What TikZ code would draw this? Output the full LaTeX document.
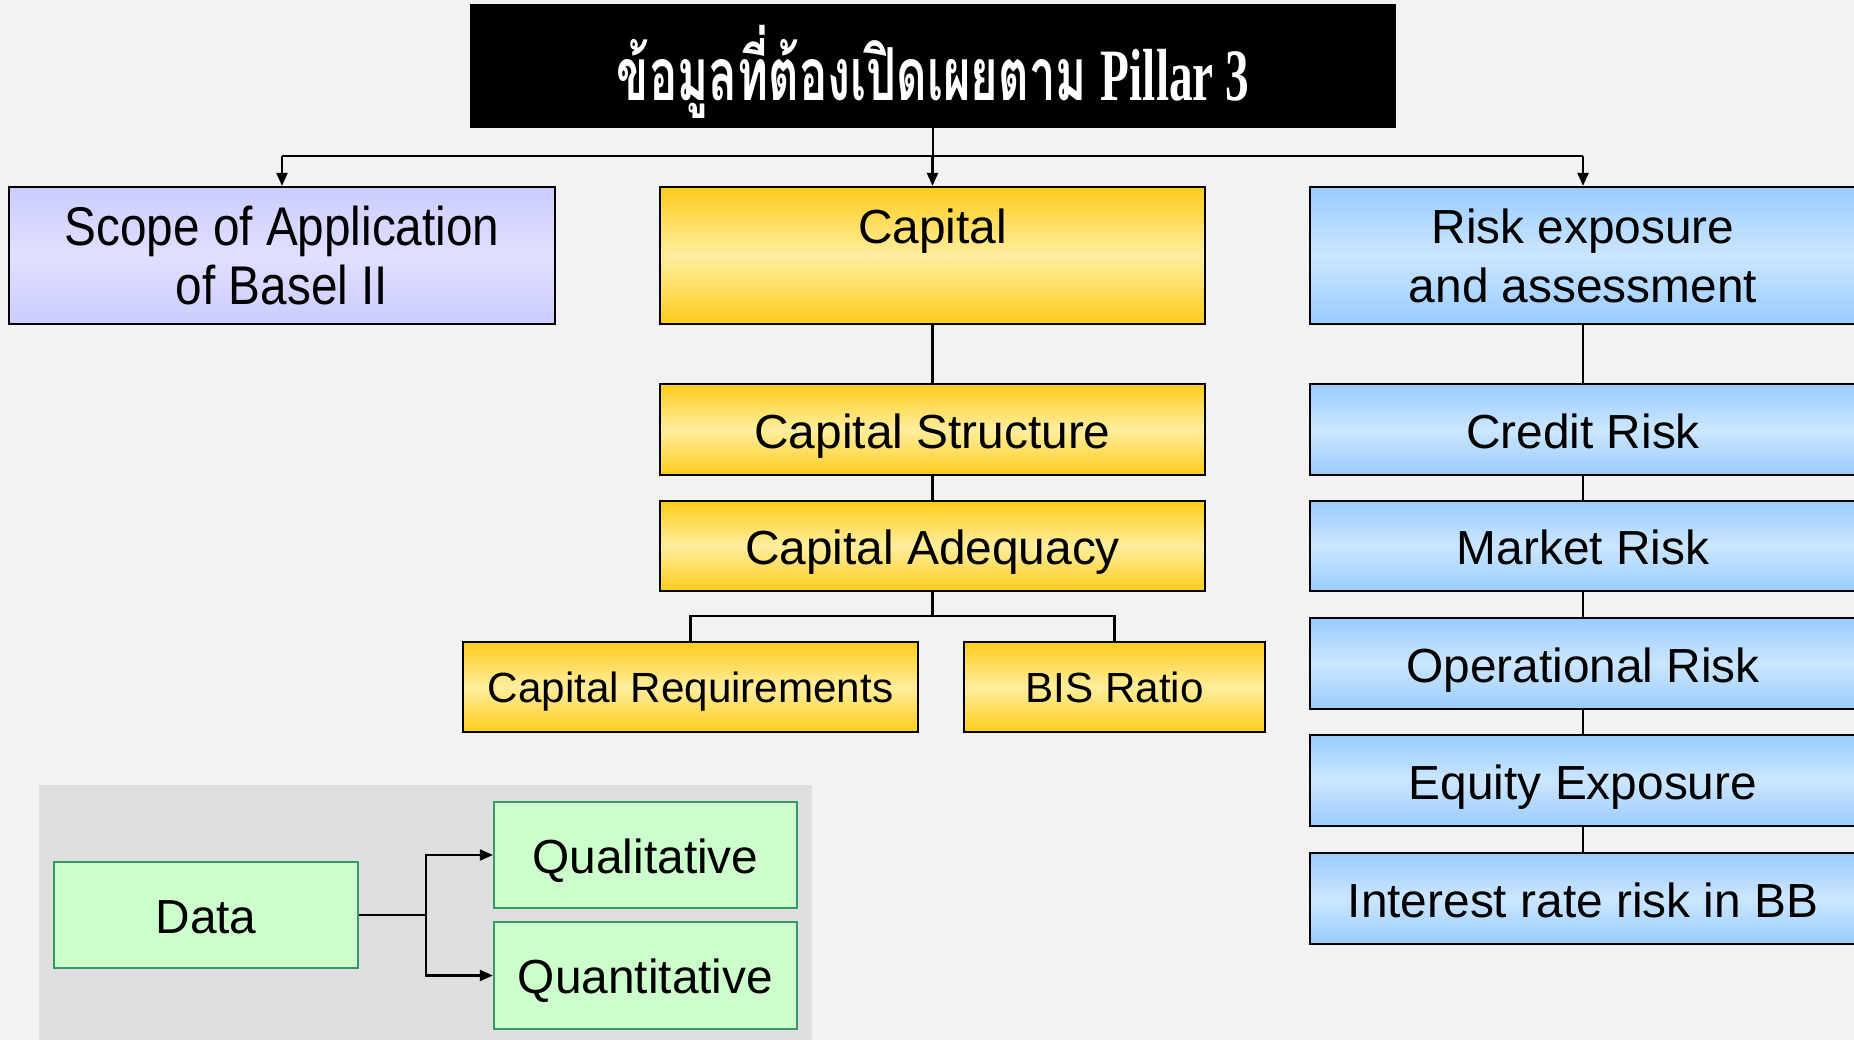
\documentclass[tikz,border=0pt]{standalone}
\usepackage{fontspec}
\setmainfont{Liberation Sans}
\newfontfamily\thaifont[Script=Thai,FakeStretch=0.645]{Loma}
\newfontfamily\pillarfont[FakeStretch=0.64]{Liberation Serif}
\newfontfamily\narrowfont[FakeStretch=0.875]{Liberation Sans}
\usetikzlibrary{arrows.meta}
\definecolor{pagebg}{HTML}{F2F2F2}
\definecolor{panelgray}{HTML}{DFDFDF}
\definecolor{scopeedge}{HTML}{CCCCFF}
\definecolor{scopemid}{HTML}{E0E0FF}
\definecolor{capedge}{HTML}{FFCC1A}
\definecolor{capmid}{HTML}{FFEE9E}
\definecolor{riskedge}{HTML}{99CCFF}
\definecolor{riskmid}{HTML}{CCE6FF}
\definecolor{datafill}{HTML}{CCFFCC}
\definecolor{dataline}{HTML}{339966}
\tikzset{
  box/.style={draw=black, line width=0.6pt, inner sep=0pt, align=center,
    minimum width=5.45cm, font=\fontsize{13.6}{16.8}\selectfont},
  oneline/.style={text height=10.8pt, text depth=0pt},
  smallline/.style={text height=9pt, text depth=0pt, font=\fontsize{12}{14}\selectfont},
  scopebox/.style={box, top color=scopeedge, bottom color=scopeedge, middle color=scopemid,
    minimum height=1.37cm, font=\narrowfont\fontsize{15.5}{16.8}\selectfont},
  capbox/.style={box, top color=capedge, bottom color=capedge, middle color=capmid},
  riskbox/.style={box, top color=riskedge, bottom color=riskedge, middle color=riskmid},
  databox/.style={draw=dataline, line width=0.6pt, fill=datafill, inner sep=0pt,
    minimum width=3.03cm, minimum height=1.06cm, text height=10.3pt, text depth=0pt,
    font=\fontsize{13.6}{16}\selectfont},
  link/.style={line width=0.6pt},
  arrowlink/.style={link, -{Triangle[length=0.13cm, width=0.11cm]}}
}
\begin{document}
\begin{tikzpicture}[x=0.01cm, y=-0.01cm]
  \useasboundingbox (0,0) rectangle (1854,1040);
  \fill[pagebg] (0,0) rectangle (1854,1040);
  \fill[panelgray] (39,785) rectangle (812,1040);

  \node[fill=black, text=white, minimum width=9.25cm, minimum height=1.23cm,
    text height=21pt, text depth=1.4pt, font=\bfseries] (title) at (933,66)
    {{\thaifont\fontsize{20.8}{24}\selectfont ข้อมูลที่ต้องเปิดเผยตาม}\hspace{4pt}{\pillarfont\fontsize{21}{24}\selectfont Pillar 3}};

  \node[scopebox] (scope) at (282,255.5) {Scope of Application\\of Basel II};
  \node[capbox, minimum height=1.37cm] (cap) at (932.5,255.5) {Capital\\\phantom{Basel}};
  \node[riskbox, minimum height=1.37cm] (risk) at (1583,255.5) {Risk exposure\\and assessment};

  \node[capbox, oneline, minimum height=0.91cm] (capstruct) at (932.5,429.5) {Capital Structure};
  \node[capbox, oneline, minimum height=0.90cm] (capadeq) at (932.5,546) {Capital Adequacy};
  \node[capbox, smallline, minimum width=4.54cm, minimum height=0.90cm]
    (capreq) at (690.5,687) {Capital Requirements};
  \node[capbox, smallline, minimum width=3.01cm, minimum height=0.90cm]
    (bis) at (1114.5,687) {BIS Ratio};

  \node[riskbox, oneline, minimum height=0.91cm] (credit) at (1583,429.5) {Credit Risk};
  \node[riskbox, oneline, minimum height=0.90cm] (market) at (1583,546) {Market Risk};
  \node[riskbox, oneline, minimum height=0.91cm] (oper) at (1583,663.5) {Operational Risk};
  \node[riskbox, oneline, minimum height=0.91cm] (equity) at (1583,780.5) {Equity Exposure};
  \node[riskbox, oneline, minimum height=0.91cm] (irrbb) at (1583,898.5) {Interest rate risk in BB};

  \node[databox, minimum width=3.04cm] (data) at (206,915) {Data};
  \node[databox] (qual) at (645.5,855) {Qualitative};
  \node[databox, minimum height=1.07cm] (quant) at (645.5,975.5) {Quantitative};

  \coordinate (busl) at (282,156);
  \coordinate (busr) at (1583,156);
  \coordinate (split) at (932.5,616);
  \coordinate (fork) at (426,915);

  \begin{scope}[link]
    \draw (title.south) to (title.south |- busl);
    \draw (busl) to (busr);
    \draw (cap) to (capstruct);
    \draw (capstruct) to (capadeq);
    \draw (capadeq) to (split);
    \draw (capreq.north) |- (split) -| (bis.north);
    \draw (risk) to (credit);
    \draw (credit) to (market);
    \draw (market) to (oper);
    \draw (oper) to (equity);
    \draw (equity) to (irrbb);
    \draw (data) to (fork);
  \end{scope}
  \begin{scope}[arrowlink]
    \draw (busl) to (scope.north);
    \draw (cap.north |- busl) to (cap.north);
    \draw (busr) to (risk.north);
    \draw (fork) |- (qual);
    \draw (fork) |- (quant);
  \end{scope}
\end{tikzpicture}
\end{document}
